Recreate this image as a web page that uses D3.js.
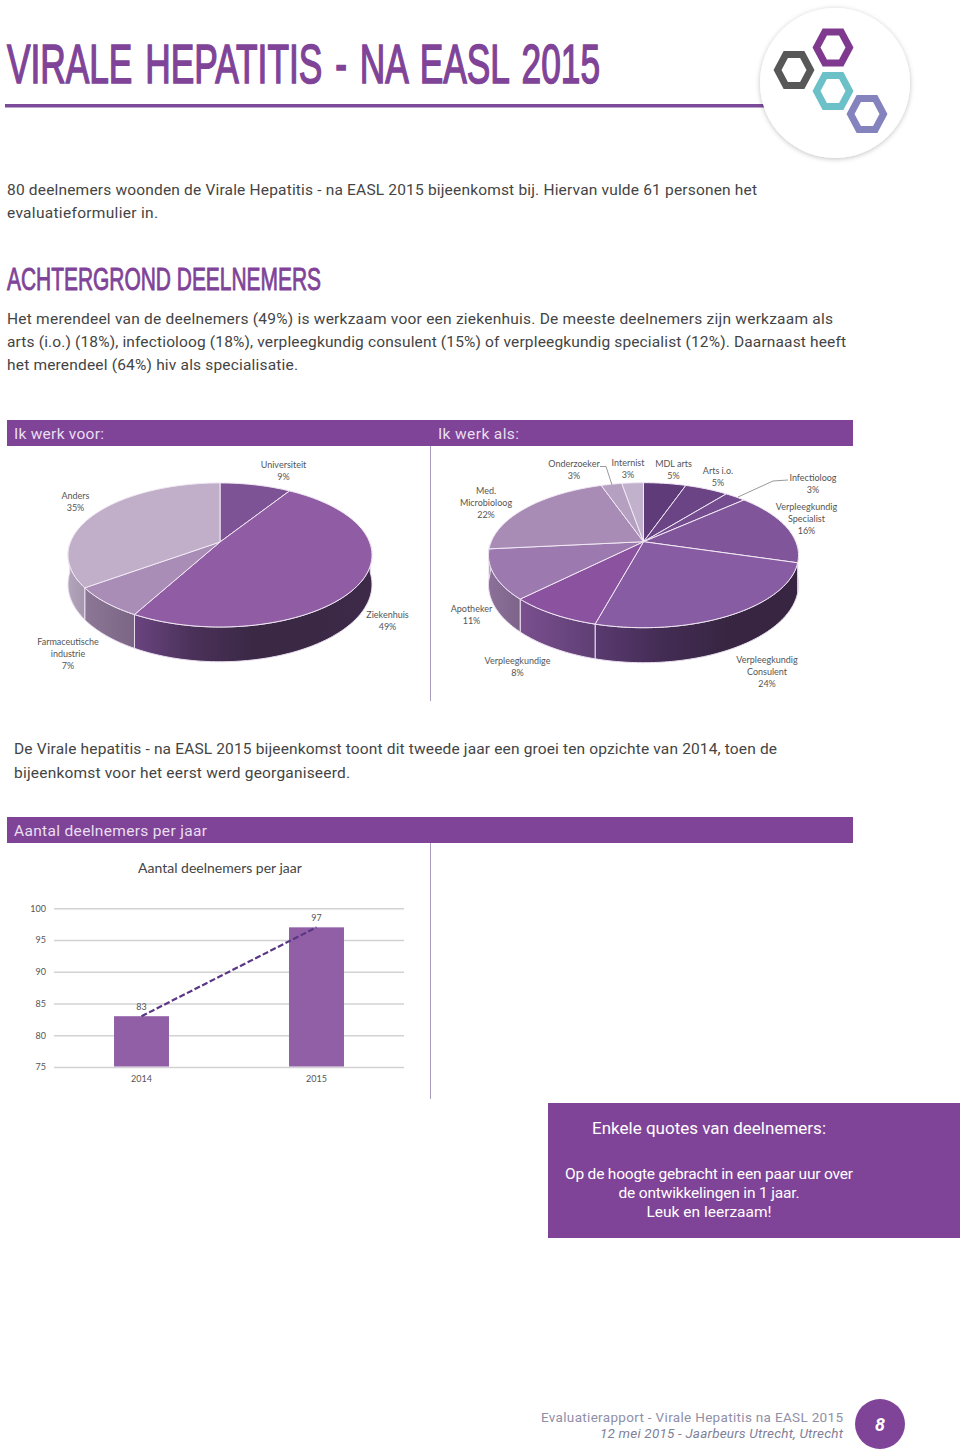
<!DOCTYPE html>
<html>
<head>
<meta charset="utf-8">
<script src="https://cdnjs.cloudflare.com/ajax/libs/d3/7.8.5/d3.min.js"></script>
<style>
html, body { margin: 0; padding: 0; background: #fff; }
svg { display: block; }
text { font-family: Lato, sans-serif; }
.din { font-family: Roboto, sans-serif; }
.head { font-family: "Liberation Sans Narrow", "Liberation Sans", sans-serif; font-weight: normal; }
.lbl { font-size: 9px; fill: #555; text-anchor: middle; }
.axis text { font-family: Lato, sans-serif; font-size: 9px; fill: #555; }
</style>
</head>
<body>
<svg width="960" height="1453"></svg>
<script>
const voorLabels = [["Universiteit"], ["Ziekenhuis"], ["Farmaceutische", "industrie"], ["Anders"]]
const voorPercent = [9, 49, 7, 35]
const voorColors = ["#7d5396", "#905ca3", "#a98db6", "#c1afca"]

const alsLabels = [["MDL arts"], ["Arts i.o."], ["Infectioloog"], ["Verpleegkundig", "Specialist"], ["Verpleegkundig", "Consulent"],
    ["Verpleegkundige"], ["Apotheker"], ["Med.", "Microbioloog"], ["Onderzoeker"], ["Internist"]]
const alsPercent = [5, 5, 3, 16, 24, 8, 11, 22, 3, 3]
// slice sizes, the printed percentages are rounded
const alsShare = [5.3, 5.4, 2.6, 16.3, 24.6, 8.2, 11, 21.3, 2.6, 2.7]
const alsColors = ["#5f3b79", "#6a4485", "#754c90", "#80559a", "#885ca3", "#8b52a0", "#9c79ae", "#a98cb6", "#b5a0c1", "#c2b1cc"]

const years = ["2014", "2015"]
const deelnemers = [83, 97]
const yTicks = [75, 80, 85, 90, 95, 100]

const purple = "#7f4398"
const svg = d3.select("svg")
const defs = svg.append("defs")

defs.append("filter").attr("id", "shadow").attr("x", "-20%").attr("y", "-20%").attr("width", "140%").attr("height", "140%")
    .append("feDropShadow").attr("dx", 0).attr("dy", 1).attr("stdDeviation", 2.5).attr("flood-color", "#000").attr("flood-opacity", 0.25)

// text squeezed to the width it has in the original, the DIN face is not installed
function din(str, x, y, w, size, fill, anchor) {
    return svg.append("text").attr("class", "din").attr("x", x).attr("y", y).text(str)
        .attr("textLength", w).attr("text-anchor", anchor || "start")
        .style("font-size", size + "px").attr("fill", fill)
}

// header
svg.append("text").attr("class", "head").attr("x", 7).attr("y", 82.5).text("VIRALE HEPATITIS - NA EASL 2015")
    .attr("textLength", 593).attr("lengthAdjust", "spacingAndGlyphs")
    .style("font-size", "56px").style("word-spacing", "5px")
    .attr("stroke", purple).attr("stroke-width", 1.6).attr("fill", purple)
svg.append("rect").attr("x", 5).attr("y", 104).attr("width", 770).attr("height", 3.5).attr("fill", "#7b4a9a")

svg.append("circle").attr("cx", 835).attr("cy", 83).attr("r", 75).attr("fill", "#fff").attr("filter", "url(#shadow)")
const hexagons = [[833, 47.5, "#7f3a90"], [794, 70, "#585858"], [833, 91, "#6cc0c8"], [867, 114, "#8483bd"]]
hexagons.forEach(function(h) {
    const pts = d3.range(6).map(function(i) {
        const a = i * Math.PI / 3
        return (h[0] + 16.5 * Math.cos(a)) + "," + (h[1] + 17.9 * Math.sin(a))
    })
    svg.append("polygon").attr("points", pts.join(" ")).attr("fill", "none").attr("stroke", h[2]).attr("stroke-width", 7)
})

din("80 deelnemers woonden de Virale Hepatitis - na EASL 2015 bijeenkomst bij. Hiervan vulde 61 personen het", 7, 195, 750, 15.5, "#444")
din("evaluatieformulier in.", 7, 218, 151, 15.5, "#444")

svg.append("text").attr("class", "head").attr("x", 7).attr("y", 290).text("ACHTERGROND DEELNEMERS")
    .attr("textLength", 314).attr("lengthAdjust", "spacingAndGlyphs")
    .style("font-size", "32px").attr("stroke", purple).attr("stroke-width", 0.9).attr("fill", purple)

din("Het merendeel van de deelnemers (49%) is werkzaam voor een ziekenhuis. De meeste deelnemers zijn werkzaam als", 7, 324, 826, 15.5, "#444")
din("arts (i.o.) (18%), infectioloog (18%), verpleegkundig consulent (15%) of verpleegkundig specialist (12%). Daarnaast heeft", 7, 347, 839, 15.5, "#444")
din("het merendeel (64%) hiv als specialisatie.", 7, 370, 291, 15.5, "#444")

// purple section bars
svg.append("rect").attr("x", 7).attr("y", 420).attr("width", 846).attr("height", 26).attr("fill", purple)
din("Ik werk voor:", 14, 439, 90, 15.5, "#e9dff0")
din("Ik werk als:", 438, 439, 81, 15.5, "#e9dff0")
svg.append("rect").attr("x", 7).attr("y", 817).attr("width", 846).attr("height", 26).attr("fill", purple)
din("Aantal deelnemers per jaar", 14, 836, 193, 15.5, "#e9dff0")

svg.append("line").attr("x1", 430.5).attr("x2", 430.5).attr("y1", 446).attr("y2", 701).attr("stroke", "#a99cbc")
svg.append("line").attr("x1", 430.5).attr("x2", 430.5).attr("y1", 843).attr("y2", 1099).attr("stroke", "#a99cbc")

// a flat pie seen in perspective: circle coordinates go through a projection
function pie3d(opt) {
    const slices = d3.pie().sort(null).value(function(d) { return d })(opt.values)
    const g = svg.append("g")
    function project(a) {
        const u = Math.sin(a), v = -Math.cos(a), w = 1 - opt.p * v
        return [opt.cx + opt.R * u / w, opt.cy + opt.S * v / w]
    }
    function drop(a) {
        const v = -Math.cos(a), w = 1 - opt.p * v
        return opt.depth / w
    }
    function arcPoints(a0, a1) {
        const n = Math.max(2, Math.ceil((a1 - a0) / 0.02))
        return d3.range(n + 1).map(function(i) { return a0 + (a1 - a0) * i / n })
    }
    const line = d3.line()

    // sides, only the part of the rim that faces us
    slices.forEach(function(s, i) {
        const a0 = Math.max(s.startAngle, Math.PI / 2 + 0.03)
        const a1 = Math.min(s.endAngle, Math.PI * 1.5 - 0.03)
        if (a1 <= a0) return
        const angles = arcPoints(a0, a1)
        const top = angles.map(project)
        const bottom = angles.map(function(a) { const p = project(a); return [p[0], p[1] + drop(a)] }).reverse()
        const id = opt.id + "-side-" + i
        const sc = opt.sides[i]
        const grad = defs.append("linearGradient").attr("id", id).attr("gradientUnits", "userSpaceOnUse")
            .attr("x1", d3.min(top, function(d) { return d[0] })).attr("x2", d3.max(top, function(d) { return d[0] })).attr("y1", 0).attr("y2", 0)
        sc.forEach(function(c, k) {
            grad.append("stop").attr("offset", k / (sc.length - 1)).attr("stop-color", c)
        })
        g.append("path").attr("d", line(top.concat(bottom)) + "Z").attr("fill", "url(#" + id + ")")
            .attr("stroke", "#eadff0").attr("stroke-width", 1)
    })
    // top face
    slices.forEach(function(s, i) {
        const rim = arcPoints(s.startAngle, s.endAngle).map(project)
        g.append("path").attr("d", line([[opt.cx, opt.cy]].concat(rim)) + "Z")
            .attr("fill", opt.colors[i]).attr("stroke", "#f1e9f4").attr("stroke-width", 1).attr("stroke-linejoin", "round")
    })
}

function pieLabels(labels, percents, at) {
    labels.forEach(function(lines, i) {
        const t = svg.append("text").attr("class", "lbl")
        lines.concat([percents[i] + "%"]).forEach(function(l, k) {
            t.append("tspan").attr("x", at[i][0]).attr("y", at[i][1] + k * 12).text(l)
        })
    })
}

pie3d({
    id: "voor", values: voorPercent, colors: voorColors, cx: 220, cy: 542, R: 149.5, S: 69.7, p: 0.18, depth: 28.5,
    sides: [["#555", "#555"], ["#6a4480", "#4a3158", "#3a2845", "#3a2845", "#3d2a49"], ["#8d7797", "#7a6585"], ["#b3a5bb", "#a596ae"]]
})
pieLabels(voorLabels, voorPercent, [[283.5, 468], [387.5, 618], [68, 645], [75.5, 499]])

pie3d({
    id: "als", values: alsShare, colors: alsColors, cx: 643.5, cy: 541.7, R: 152.3, S: 70, p: 0.186, depth: 28.5,
    sides: [["#555"], ["#555"], ["#555"], ["#3a2845", "#3a2845"], ["#5a3a70", "#432c54", "#372541", "#372541"], ["#7a4f8f", "#5f3f74"], ["#8c7099", "#7d6389"],
        ["#555"], ["#555"], ["#555"]].map(function(c) { return c.length > 1 ? c : [c[0], c[0]] })
})
pieLabels(alsLabels, alsPercent, [[673.5, 467], [718, 474], [813, 481], [806.5, 510], [767, 663], [517.5, 664], [471.5, 612], [486, 494], [574, 467], [628, 466]])

svg.append("path").attr("d", d3.line()([[600, 466.5], [606, 466.5], [612, 485]])).attr("fill", "none").attr("stroke", "#999")
svg.append("path").attr("d", d3.line()([[788, 480], [773, 481], [738, 497]])).attr("fill", "none").attr("stroke", "#999")

// bar chart
svg.append("text").attr("x", 220).attr("y", 873).attr("text-anchor", "middle").text("Aantal deelnemers per jaar")
    .style("font-size", "14px").attr("fill", "#444")

const x = d3.scaleBand().domain(years).range([54, 404]).paddingInner(0.686).paddingOuter(0.343)
const y = d3.scaleLinear().domain([75, 100]).range([1067, 908.3])

const yAxis = svg.append("g").attr("class", "axis").attr("transform", "translate(54,0)")
    .call(d3.axisLeft(y).tickValues(yTicks).tickSize(-350).tickPadding(8))
yAxis.select(".domain").remove()
yAxis.selectAll("line").attr("stroke", "#d2d1d4").attr("stroke-width", 1.5)

svg.selectAll(".bar").data(years).enter().append("rect")
    .attr("class", "bar")
    .attr("x", function(d) { return x(d) })
    .attr("width", x.bandwidth())
    .attr("y", function(d, i) { return y(deelnemers[i]) })
    .attr("height", function(d, i) { return y(75) - y(deelnemers[i]) - 0.5 })
    .attr("fill", "#905fa6")

const xAxis = svg.append("g").attr("class", "axis").attr("transform", "translate(0,1067)")
    .call(d3.axisBottom(x).tickSize(0).tickPadding(9))
xAxis.select(".domain").remove()

const trend = d3.line().x(function(d) { return x(d) + x.bandwidth() / 2 }).y(function(d, i) { return y(deelnemers[i]) })
svg.append("path").attr("d", trend(years)).attr("fill", "none").attr("stroke", "#5a3685")
    .attr("stroke-width", 2.2).attr("stroke-dasharray", "6 2.5")

svg.selectAll(".val").data(years).enter().append("text")
    .attr("class", "lbl")
    .attr("x", function(d) { return x(d) + x.bandwidth() / 2 })
    .attr("y", function(d, i) { return y(deelnemers[i]) - 6.5 })
    .text(function(d, i) { return deelnemers[i] })

din("De Virale hepatitis - na EASL 2015 bijeenkomst toont dit tweede jaar een groei ten opzichte van 2014, toen de", 14, 754, 763, 15.5, "#444")
din("bijeenkomst voor het eerst werd georganiseerd.", 14, 778, 336, 15.5, "#444")

// quote box
svg.append("rect").attr("x", 548).attr("y", 1103).attr("width", 412).attr("height", 135).attr("fill", purple)
din("Enkele quotes van deelnemers:", 709, 1134, 234, 17, "#fff", "middle")
din("Op de hoogte gebracht in een paar uur over", 709, 1179, 288, 15.5, "#fff", "middle")
din("de ontwikkelingen in 1 jaar.", 709, 1198, 181, 15.5, "#fff", "middle")
din("Leuk en leerzaam!", 709, 1217, 125, 15.5, "#fff", "middle")

// footer
din("Evaluatierapport - Virale Hepatitis na EASL 2015", 843, 1422, 302, 13.5, "#8f8fa8", "end")
din("12 mei 2015 - Jaarbeurs Utrecht, Utrecht", 843, 1438, 243, 13.5, "#7f7f99", "end").style("font-style", "italic")
svg.append("circle").attr("cx", 880).attr("cy", 1424).attr("r", 25).attr("fill", purple)
svg.append("text").attr("class", "din").attr("x", 880).attr("y", 1431).attr("text-anchor", "middle").text("8")
    .style("font-weight", "bold").style("font-style", "italic").style("font-size", "18px").attr("fill", "#fff")
</script>
</body>
</html>
